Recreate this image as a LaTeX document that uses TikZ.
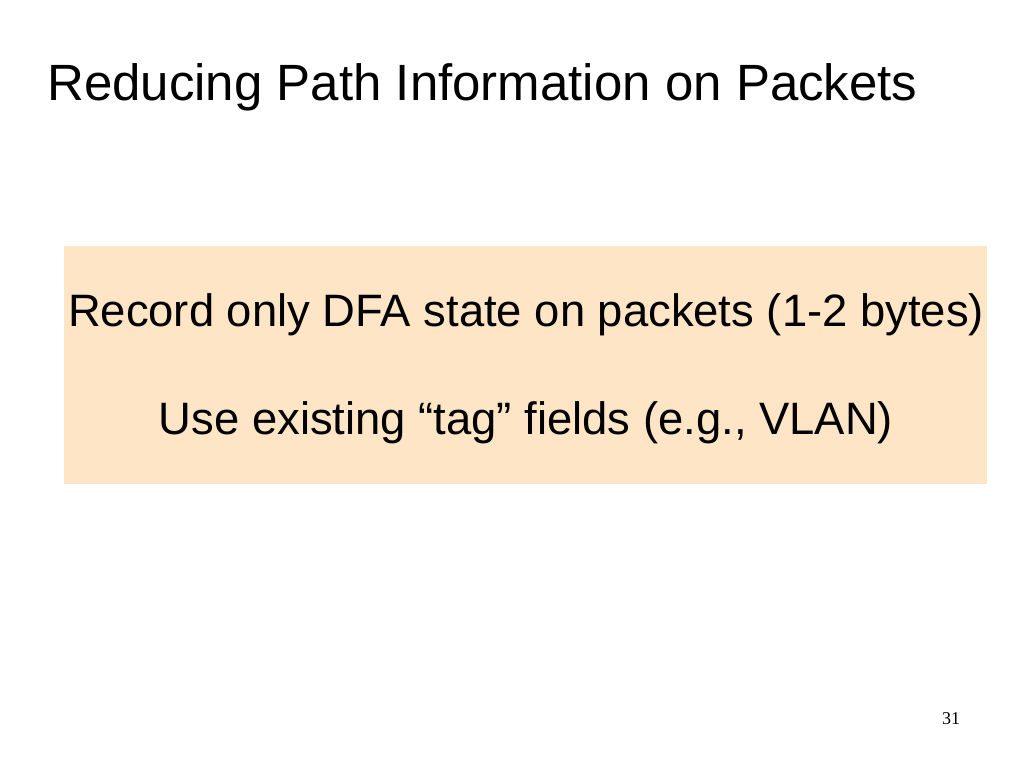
\documentclass[tikz,border=0pt]{standalone}
\usepackage{fontspec}
\setmainfont{Liberation Sans}
\newfontfamily\serifnum{Liberation Serif}
\definecolor{peach}{HTML}{FDE5C6}
\begin{document}
\begin{tikzpicture}[x=1pt,y=-1pt,
  txt/.style={inner sep=0pt,anchor=base,font=\fontsize{45.4}{54}\selectfont}]
\useasboundingbox (0,0) rectangle (1024,768);
\node[inner sep=0pt,anchor=base west,font=\fontsize{51}{60}\selectfont] (title) at (47,100) {Reducing Path Information on Packets};
\fill[peach] (64,246) rectangle (987,484);
\node[txt] (l1) at (526,326) {Record only DFA state on packets (1-2 bytes)};
\node[txt] (l2) at (526,434) {Use existing “tag” fields (e.g., VLAN)};
\node[inner sep=0pt,anchor=base,font=\serifnum\fontsize{18}{20}\selectfont] (pg) at (951,724) {31};
\end{tikzpicture}
\end{document}
